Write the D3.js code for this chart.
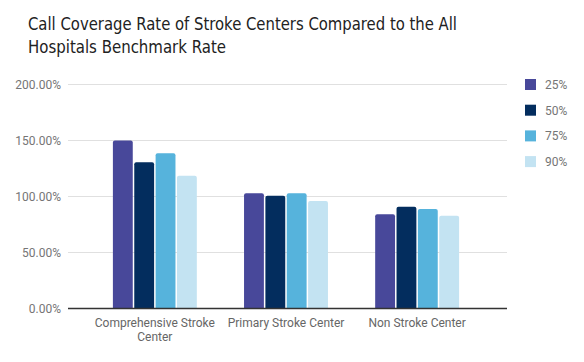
<!DOCTYPE html>
<html>
<head>
<meta charset="utf-8">
<script src="https://cdn.jsdelivr.net/npm/d3@7"></script>
<style>
  body { margin: 0; background: #fff; }
  svg { display: block; }
</style>
</head>
<body>
<svg width="584" height="362"></svg>
<script>
var categories = ["Comprehensive Stroke Center", "Primary Stroke Center", "Non Stroke Center"];
var seriesNames = ["25%", "50%", "75%", "90%"];
var p25 = [150.0, 102.9, 84.1];
var p50 = [130.5, 100.7, 90.9];
var p75 = [138.6, 102.9, 88.8];
var p90 = [118.6, 96.0, 82.9];
var yTicks = [0, 50, 100, 150, 200];
var colors = ["#48489a", "#032d5e", "#56b3dc", "#c3e3f2"];

var values = [p25, p50, p75, p90];

var svg = d3.select("svg");

// title, squeezed to the width of the original condensed font
var titleLines = ["Call Coverage Rate of Stroke Centers Compared to the All", "Hospitals Benchmark Rate"];
var titleWidths = [429, 198];
svg.append("g")
    .selectAll("text")
    .data(titleLines)
    .enter().append("text")
    .attr("x", 28)
    .attr("y", function (d, i) { return 30 + i * 23; })
    .attr("fill", "#222")
    .attr("textLength", function (d, i) { return titleWidths[i]; })
    .attr("lengthAdjust", "spacingAndGlyphs")
    .style("font-family", "'DejaVu Sans Condensed', 'DejaVu Sans'")
    .style("font-size", "18px")
    .text(function (d) { return d; });

var x0 = d3.scaleBand()
    .domain(categories)
    .range([67, 505])
    .paddingInner(0.36)
    .paddingOuter(0.35);

var x1 = d3.scaleBand()
    .domain(seriesNames)
    .range([0, x0.bandwidth()])
    .paddingInner(0.07);

var y = d3.scaleLinear()
    .domain([0, 200])
    .range([308.5, 84.5]);

// gridlines
svg.append("g")
    .selectAll("line")
    .data(yTicks.slice(1))
    .enter().append("line")
    .attr("x1", 68)
    .attr("x2", 507)
    .attr("y1", function (d) { return y(d); })
    .attr("y2", function (d) { return y(d); })
    .attr("stroke", "#e0e0e0")
    .attr("stroke-width", 1);

// y labels
svg.append("g")
    .selectAll("text")
    .data(yTicks)
    .enter().append("text")
    .attr("x", 61)
    .attr("y", function (d) { return y(d) + 4; })
    .attr("text-anchor", "end")
    .attr("fill", "#757575")
    .style("font-family", "Roboto")
    .style("font-size", "12px")
    .text(function (d) { return d.toFixed(2) + "%"; });

// bars
var groups = svg.append("g")
    .selectAll("g")
    .data(categories)
    .enter().append("g")
    .attr("transform", function (d) { return "translate(" + x0(d) + ",0)"; });

groups.selectAll("path")
    .data(function (d, i) {
        return seriesNames.map(function (s, j) { return { key: s, idx: j, value: values[j][i] }; });
    })
    .enter().append("path")
    .attr("fill", function (d) { return colors[d.idx]; })
    .attr("d", function (d) {
        var bx = x1(d.key), bw = x1.bandwidth(), top = y(d.value), bot = y(0), r = 2;
        return "M" + bx + "," + bot +
            "V" + (top + r) +
            "Q" + bx + "," + top + " " + (bx + r) + "," + top +
            "H" + (bx + bw - r) +
            "Q" + (bx + bw) + "," + top + " " + (bx + bw) + "," + (top + r) +
            "V" + bot + "Z";
    });

// baseline
svg.append("line")
    .attr("x1", 68)
    .attr("x2", 507)
    .attr("y1", y(0))
    .attr("y2", y(0))
    .attr("stroke", "#333")
    .attr("stroke-width", 1.5);

// x labels
var xl = svg.append("g")
    .selectAll("text")
    .data(categories)
    .enter().append("text")
    .attr("text-anchor", "middle")
    .attr("fill", "#666")
    .style("font-family", "Roboto")
    .style("font-size", "12px")
    .attr("y", 327);
xl.each(function (d) {
    var t = d3.select(this), cx = x0(d) + x0.bandwidth() / 2;
    var lines = d === categories[0] ? ["Comprehensive Stroke", "Center"] : [d];
    lines.forEach(function (l, i) {
        t.append("tspan").attr("x", cx).attr("dy", i ? 14 : 0).text(l);
    });
});

// legend
var legend = svg.append("g")
    .selectAll("g")
    .data(seriesNames)
    .enter().append("g")
    .attr("transform", function (d, i) { return "translate(525," + (79 + i * 25.7) + ")"; });
legend.append("rect")
    .attr("width", 11)
    .attr("height", 11)
    .attr("fill", function (d, i) { return colors[i]; });
legend.append("text")
    .attr("x", 20)
    .attr("y", 10)
    .attr("fill", "#757575")
    .style("font-family", "Roboto")
    .style("font-size", "12px")
    .text(function (d) { return d; });
</script>
</body>
</html>
